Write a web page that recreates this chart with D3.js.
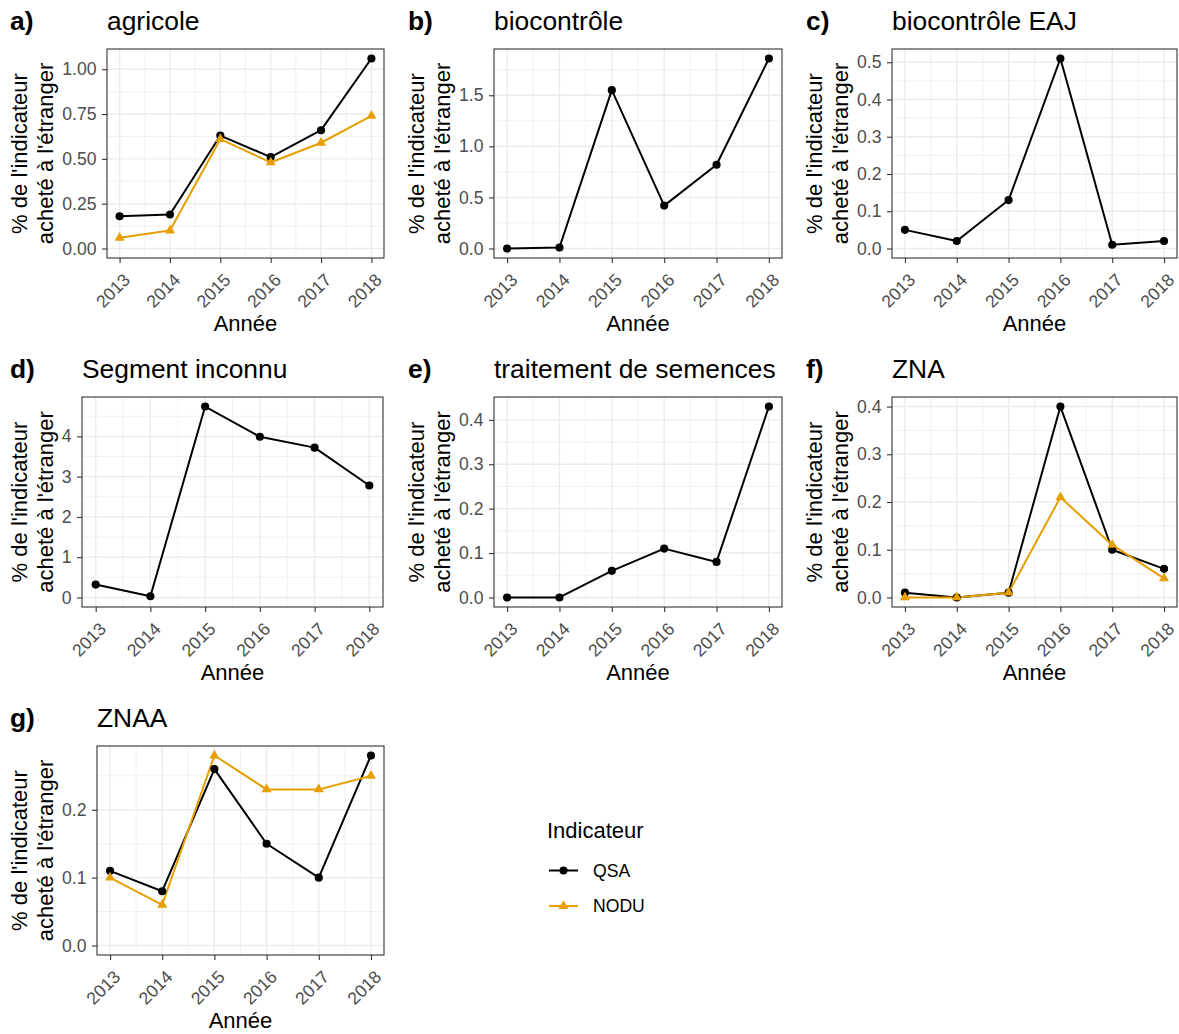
<!DOCTYPE html>
<html><head><meta charset="utf-8">
<script src="https://cdn.jsdelivr.net/npm/d3@7/dist/d3.min.js"></script>
<style>
body{margin:0;background:#fff;}
svg text{font-family:"Liberation Sans",Arial,Helvetica,sans-serif;}
</style></head><body>
<svg id="chart" width="1179" height="1034"></svg>
<script>
// ---------- data ----------
const years = [2013, 2014, 2015, 2016, 2017, 2018];
const yearLabels = ["2013", "2014", "2015", "2016", "2017", "2018"];
const panelTags = ["a)", "b)", "c)", "d)", "e)", "f)", "g)"];
const panelTitles = ["agricole", "biocontrôle", "biocontrôle EAJ", "Segment inconnu", "traitement de semences", "ZNA", "ZNAA"];
const seriesNames = ["QSA", "NODU"];
const seriesColors = ["#000000", "#E69F00"];
const legendTitle = "Indicateur";
const xAxisTitle = "Année";
const yAxisTitle = ["% de l'indicateur", "acheté à l'étranger"];

const qsaAgricole = [0.18, 0.19, 0.63, 0.51, 0.66, 1.06];
const noduAgricole = [0.06, 0.10, 0.61, 0.48, 0.59, 0.74];
const qsaBiocontrole = [0.00, 0.01, 1.55, 0.42, 0.82, 1.86];
const qsaBiocontroleEAJ = [0.05, 0.02, 0.13, 0.51, 0.01, 0.02];
const qsaSegmentInconnu = [0.32, 0.03, 4.74, 3.99, 3.72, 2.78];
const qsaTraitementSemences = [0.00, 0.00, 0.06, 0.11, 0.08, 0.43];
const qsaZNA = [0.01, 0.00, 0.01, 0.40, 0.10, 0.06];
const noduZNA = [0.00, 0.00, 0.01, 0.21, 0.11, 0.04];
const qsaZNAA = [0.11, 0.08, 0.26, 0.15, 0.10, 0.28];
const noduZNAA = [0.10, 0.06, 0.28, 0.23, 0.23, 0.25];

const yTicksAgricole = [0, 0.25, 0.5, 0.75, 1.0];
const yTickLabelsAgricole = ["0.00", "0.25", "0.50", "0.75", "1.00"];
const yTicksBiocontrole = [0, 0.5, 1.0, 1.5];
const yTickLabelsBiocontrole = ["0.0", "0.5", "1.0", "1.5"];
const yTicksBiocontroleEAJ = [0, 0.1, 0.2, 0.3, 0.4, 0.5];
const yTickLabelsBiocontroleEAJ = ["0.0", "0.1", "0.2", "0.3", "0.4", "0.5"];
const yTicksSegmentInconnu = [0, 1, 2, 3, 4];
const yTickLabelsSegmentInconnu = ["0", "1", "2", "3", "4"];
const yTicksTraitement = [0, 0.1, 0.2, 0.3, 0.4];
const yTickLabelsTraitement = ["0.0", "0.1", "0.2", "0.3", "0.4"];
const yTicksZNA = [0, 0.1, 0.2, 0.3, 0.4];
const yTickLabelsZNA = ["0.0", "0.1", "0.2", "0.3", "0.4"];
const yTicksZNAA = [0, 0.1, 0.2];
const yTickLabelsZNAA = ["0.0", "0.1", "0.2"];

// ---------- assemble panels ----------
const panelSeries = [
  [qsaAgricole, noduAgricole],
  [qsaBiocontrole, null],
  [qsaBiocontroleEAJ, null],
  [qsaSegmentInconnu, null],
  [qsaTraitementSemences, null],
  [qsaZNA, noduZNA],
  [qsaZNAA, noduZNAA]
];
const panelTicks = [yTicksAgricole, yTicksBiocontrole, yTicksBiocontroleEAJ, yTicksSegmentInconnu, yTicksTraitement, yTicksZNA, yTicksZNAA];
const panelTickLabels = [yTickLabelsAgricole, yTickLabelsBiocontrole, yTickLabelsBiocontroleEAJ, yTickLabelsSegmentInconnu, yTickLabelsTraitement, yTickLabelsZNA, yTickLabelsZNAA];

// layout (plot rectangles)
const layout = [
  {l:107, r:384, t:49, b:258, col:0},
  {l:494, r:782, t:49, b:258, col:1},
  {l:892, r:1177, t:49, b:258, col:2},
  {l:82, r:383, t:397, b:607, col:0},
  {l:494, r:782, t:397, b:607, col:1},
  {l:892, r:1177, t:397, b:607, col:2},
  {l:97, r:384, t:746, b:955, col:0}
];
const colTag = [10, 408, 806];
const colYT = [19, 416, 814];

const svg = d3.select("#chart");
const tickSize = 17.6, titleSize = 26.4, axisTitleSize = 22;

panelSeries.forEach((ser, i) => {
  const L = layout[i];
  const g = svg.append("g");
  const x = d3.scaleLinear().domain([2012.75, 2018.25]).range([L.l, L.r]);
  const allVals = ser.filter(s => s).flat().concat([0]);
  const mx = d3.max(allVals), mn = d3.min(allVals);
  const pad = (mx - mn) * 0.05;
  const y = d3.scaleLinear().domain([mn - pad, mx + pad]).range([L.b, L.t]);
  const ticks = panelTicks[i];
  const step = ticks[1] - ticks[0];
  const minors = [];
  for (let k = -1; k < ticks.length; k++) {
    const v = ticks[0] + (k + 0.5) * step;
    if (v >= y.domain()[0] && v <= y.domain()[1]) minors.push(v);
  }
  const xMinors = d3.range(2012.5, 2018.6, 1).filter(v => v >= 2012.75 && v <= 2018.25);

  g.append("rect").attr("x", L.l).attr("y", L.t).attr("width", L.r - L.l).attr("height", L.b - L.t).attr("fill", "#fff");
  g.selectAll(".ymin").data(minors).join("line")
    .attr("x1", L.l).attr("x2", L.r).attr("y1", d => y(d)).attr("y2", d => y(d))
    .attr("stroke", "#EBEBEB").attr("stroke-width", 0.7);
  g.selectAll(".xmin").data(xMinors).join("line")
    .attr("y1", L.t).attr("y2", L.b).attr("x1", d => x(d)).attr("x2", d => x(d))
    .attr("stroke", "#EBEBEB").attr("stroke-width", 0.7);
  g.selectAll(".ymaj").data(ticks).join("line")
    .attr("x1", L.l).attr("x2", L.r).attr("y1", d => y(d)).attr("y2", d => y(d))
    .attr("stroke", "#EBEBEB").attr("stroke-width", 1.4);
  g.selectAll(".xmaj").data(years).join("line")
    .attr("y1", L.t).attr("y2", L.b).attr("x1", d => x(d)).attr("x2", d => x(d))
    .attr("stroke", "#EBEBEB").attr("stroke-width", 1.4);

  const yAxis = d3.axisLeft(y).tickValues(ticks).tickFormat((d, j) => panelTickLabels[i][j]).tickSize(5).tickPadding(5.5);
  const ya = g.append("g").attr("transform", `translate(${L.l},0)`).call(yAxis);
  ya.select(".domain").remove();
  ya.selectAll(".tick line").attr("stroke", "#333333").attr("stroke-width", 1.1);
  ya.selectAll(".tick text").attr("fill", "#4D4D4D").style("font-size", tickSize + "px");

  const xAxis = d3.axisBottom(x).tickValues(years).tickFormat((d, j) => yearLabels[j]).tickSize(5);
  const xa = g.append("g").attr("transform", `translate(0,${L.b})`).call(xAxis);
  xa.select(".domain").remove();
  xa.selectAll(".tick line").attr("stroke", "#333333").attr("stroke-width", 1.1);
  xa.selectAll(".tick text")
    .attr("fill", "#4D4D4D").style("font-size", tickSize + "px")
    .attr("text-anchor", "end").attr("x", 0).attr("y", 0).attr("dy", "0.72em")
    .attr("transform", "translate(2,14) rotate(-45)");

  const line = d3.line().x((d, j) => x(years[j])).y(d => y(d));
  ser.forEach((s, k) => {
    if (!s) return;
    g.append("path").datum(s).attr("d", line).attr("fill", "none")
      .attr("stroke", seriesColors[k]).attr("stroke-width", 2).attr("stroke-linejoin", "round");
  });
  ser.forEach((s, k) => {
    if (!s) return;
    const sym = d3.symbol().type(k === 0 ? d3.symbolCircle : d3.symbolTriangle).size(k === 0 ? 52 : 44);
    g.selectAll(".pt" + k).data(s).join("path")
      .attr("d", sym)
      .attr("transform", (d, j) => `translate(${x(years[j])},${y(d)})`)
      .attr("fill", seriesColors[k]);
  });

  g.append("rect").attr("x", L.l).attr("y", L.t).attr("width", L.r - L.l).attr("height", L.b - L.t)
    .attr("fill", "none").attr("stroke", "#333333").attr("stroke-width", 1.1);

  g.append("text").attr("x", colTag[L.col]).attr("y", L.t - 19).text(panelTags[i])
    .style("font-size", titleSize + "px").style("font-weight", "bold").attr("fill", "#000");
  g.append("text").attr("x", L.l).attr("y", L.t - 19).text(panelTitles[i])
    .style("font-size", titleSize + "px").attr("fill", "#000");
  g.append("text").attr("x", (L.l + L.r) / 2).attr("y", L.b + 73).attr("text-anchor", "middle")
    .text(xAxisTitle).style("font-size", axisTitleSize + "px").attr("fill", "#000");
  const cy = (L.t + L.b) / 2;
  yAxisTitle.forEach((t, k) => {
    const bx = colYT[L.col] + 26 * k + 8;
    g.append("text").attr("transform", `translate(${bx},${cy}) rotate(-90)`)
      .attr("text-anchor", "middle").text(t)
      .style("font-size", axisTitleSize + "px").attr("fill", "#000");
  });
});

// legend
const lg = svg.append("g");
lg.append("text").attr("x", 547).attr("y", 838).text(legendTitle).style("font-size", axisTitleSize + "px").attr("fill", "#000");
const legY = [870.5, 906];
seriesNames.forEach((n, k) => {
  lg.append("line").attr("x1", 549).attr("x2", 578).attr("y1", legY[k]).attr("y2", legY[k])
    .attr("stroke", seriesColors[k]).attr("stroke-width", 2);
  lg.append("path").attr("d", d3.symbol().type(k === 0 ? d3.symbolCircle : d3.symbolTriangle).size(k === 0 ? 52 : 44))
    .attr("transform", `translate(563.5,${legY[k]})`).attr("fill", seriesColors[k]);
  lg.append("text").attr("x", 593).attr("y", legY[k] + 6.3).text(n).style("font-size", tickSize + "px").attr("fill", "#000");
});
</script>
</body></html>
